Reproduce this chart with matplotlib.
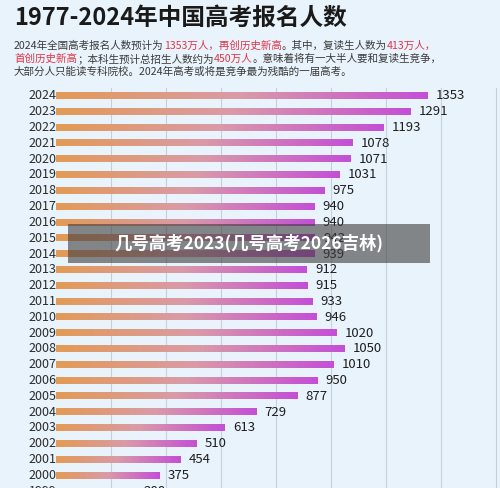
import numpy as np
import matplotlib.pyplot as plt
from matplotlib.colors import LinearSegmentedColormap
from matplotlib.patches import Rectangle

plt.rcParams['font.family'] = ['Noto Sans CJK SC', 'DejaVu Sans']

years = [2024, 2023, 2022, 2021, 2020, 2019, 2018, 2017, 2016, 2015, 2014, 2013,
         2012, 2011, 2010, 2009, 2008, 2007, 2006, 2005, 2004, 2003, 2002, 2001,
         2000, 1999]
values = [1353, 1291, 1193, 1078, 1071, 1031, 975, 940, 940, 942, 939, 912,
          915, 933, 946, 1020, 1050, 1010, 950, 877, 729, 613, 510, 454,
          375, 288]

title = "1977-2024年中国高考报名人数"
sub_lines = [
    [("2024年全国高考报名人数预计为", "k"), ("1353万人，再创历史新高", "r"),
     ("。其中，复读生人数为", "k"), ("413万人，", "r")],
    [("首创历史新高", "r"), ("；本科生预计总招生人数约为", "k"), ("450万人", "r"),
     ("。意味着将有一大半人要和复读生竞争，", "k")],
    [("大部分人只能读专科院校。2024年高考或将是竞争最为残酷的一届高考。", "k")],
]
banner = "几号高考2023(几号高考2026吉林)"

BG = "#e9f3fb"
cmap = LinearSegmentedColormap.from_list("bar", ["#e39a55", "#d99aa8", "#c44fd6"])

fig = plt.figure(figsize=(5, 4.88), dpi=100, facecolor=BG)
ax = fig.add_axes([56 / 500, 0, 444 / 500, 400 / 488])
ax.set_facecolor(BG)
for s in ax.spines.values():
    s.set_visible(False)
ax.set_xticks(range(200, 1601, 200))
ax.set_xticklabels([])
ax.set_yticks([])
ax.tick_params(length=0)
ax.grid(axis="x", color="#c5d0da", linewidth=0.8)
ax.set_axisbelow(True)

grad = np.linspace(0, 1, 256).reshape(1, -1)
h = 0.2
for i, (yr, v) in enumerate(zip(years, values)):
    ax.imshow(grad, cmap=cmap, aspect="auto",
              extent=[0, v, i + h, i - h], zorder=2, clip_on=False)
    ax.text(-100, i, str(yr), ha="left", va="center", fontsize=9,
            color="#2b2b2b", clip_on=False)
    ax.text(v + 30, i, str(v), ha="left", va="center", fontsize=9.5,
            color="#1e1e1e", clip_on=False)
ax.set_xlim(0, 1615)
ax.set_ylim(24.8, -0.5)

fig.text(14 / 500, 1 - 18 / 488, title, fontsize=17, fontweight="bold",
         color="#1a1a1a", va="center")

fig.canvas.draw()
r = fig.canvas.get_renderer()
for li, line in enumerate(sub_lines):
    x = 14 / 500
    y = 1 - (46 + li * 13) / 488
    for txt, c in line:
        t = fig.text(x, y, txt, fontsize=7.6, va="center",
                     color="#e0364a" if c == "r" else "#3a3a3a")
        bb = t.get_window_extent(r)
        x += bb.width / 500

fig.patches.append(Rectangle((68 / 500, 1 - 263 / 488), 362 / 500, 39 / 488,
                             transform=fig.transFigure, facecolor="#3c3c3c",
                             alpha=0.6, zorder=5))
fig.text(249 / 500, 1 - 243 / 488, banner, fontsize=12.5, fontweight="bold",
         color="white", ha="center", va="center", zorder=6)

fig.savefig("out.png", dpi=100, facecolor=BG)
